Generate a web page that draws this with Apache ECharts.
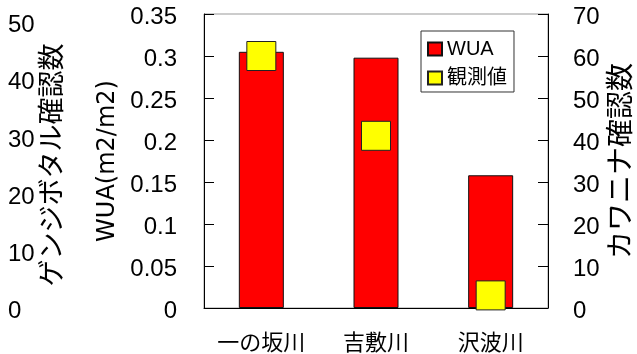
<!DOCTYPE html>
<html>
<head>
<meta charset="utf-8">
<script src="https://cdn.jsdelivr.net/npm/echarts@6/dist/echarts.min.js"></script>
<style>
  html, body { margin: 0; padding: 0; background: #fff; }
  #chart { width: 637px; height: 354px; }
</style>
</head>
<body>
<div id="chart"></div>
<script>
// Rivers on the category axis
const categories = ['一の坂川', '吉敷川', '沢波川'];
// Weighted usable area per river (m2/m2)
const wuaValues = [0.305, 0.298, 0.158];
// Observed counts, read on the right-hand axis
const observedValues = [60, 41, 3];

const FONT = '"Liberation Sans", "Noto Sans CJK JP", sans-serif';
const WIDE_FONT = '"DejaVu Sans", "Noto Sans CJK JP", sans-serif';
const black = '#000';
// Tick labels sit a few pixels below their ticks
const tickLabel = { fontSize: 24, color: black, verticalAlign: 'top', lineHeight: 7, fontFamily: FONT };

const chart = echarts.init(document.getElementById('chart'));
chart.setOption({
  animation: false,
  backgroundColor: '#fff',
  textStyle: { fontFamily: FONT, color: black },
  grid: [
    { left: 204, right: 89, top: 14, bottom: 46, show: true, borderColor: '#999', borderWidth: 1, outerBoundsMode: 'none', containLabel: false },
    { left: 70, right: 89, top: 22, bottom: 46, outerBoundsMode: 'none', containLabel: false }
  ],
  legend: {
    orient: 'vertical',
    left: 421,
    top: 31,
    padding: [8, 7, 4, 6],
    itemGap: 9,
    itemWidth: 14,
    itemHeight: 13,
    borderColor: '#333',
    borderWidth: 1,
    backgroundColor: '#fff',
    textStyle: { fontSize: 20, color: black, fontFamily: FONT },
    data: [{ name: 'WUA', icon: 'rect' }, { name: '観測値', icon: 'rect' }]
  },
  xAxis: [
    {
      type: 'category',
      gridIndex: 0,
      data: categories,
      axisLine: { lineStyle: { color: black, width: 1 } },
      axisTick: { inside: true, length: 8, lineStyle: { color: '#444' } },
      axisLabel: { fontSize: 22, color: black, margin: 25, interval: 0, fontFamily: FONT }
    },
    { type: 'category', gridIndex: 1, data: categories, show: false }
  ],
  yAxis: [
    {
      type: 'value',
      gridIndex: 0,
      position: 'left',
      min: 0,
      max: 0.35,
      interval: 0.05,
      splitLine: { show: false },
      axisLine: { show: true, lineStyle: { color: black } },
      axisTick: { show: true, inside: true, length: 10, lineStyle: { color: black } },
      axisLabel: Object.assign({ margin: 27 }, tickLabel),
      name: 'WUA(m2/m2)',
      nameLocation: 'middle',
      nameRotate: 90,
      nameGap: 84,
      nameMoveOverlap: false,
      nameTextStyle: { fontSize: 24, color: black, fontFamily: WIDE_FONT }
    },
    {
      type: 'value',
      gridIndex: 1,
      position: 'left',
      min: 0,
      max: 50,
      interval: 10,
      splitLine: { show: false },
      axisLine: { show: false },
      axisTick: { show: false },
      axisLabel: Object.assign({ margin: 62, align: 'left' }, tickLabel),
      name: 'ゲンジボタル確認数',
      nameLocation: 'middle',
      nameRotate: 90,
      nameGap: 3,
      nameMoveOverlap: false,
      nameTextStyle: { fontSize: 27, color: black, fontFamily: FONT }
    },
    {
      type: 'value',
      gridIndex: 0,
      position: 'right',
      min: 0,
      max: 70,
      interval: 10,
      splitLine: { show: false },
      axisLine: { show: true, lineStyle: { color: black } },
      axisTick: { show: true, inside: true, length: 10, lineStyle: { color: black } },
      axisLabel: Object.assign({ margin: 25 }, tickLabel),
      name: 'カワニナ確認数',
      nameLocation: 'middle',
      nameRotate: 90,
      nameGap: 60,
      nameMoveOverlap: false,
      nameTextStyle: { fontSize: 28, color: black, fontFamily: FONT }
    }
  ],
  series: [
    {
      name: 'WUA',
      type: 'bar',
      xAxisIndex: 0,
      yAxisIndex: 0,
      data: wuaValues,
      barWidth: 45,
      itemStyle: { color: '#ff0000', borderColor: '#111', borderWidth: 1 }
    },
    {
      name: '観測値',
      type: 'scatter',
      xAxisIndex: 0,
      yAxisIndex: 2,
      data: observedValues,
      symbol: 'rect',
      symbolSize: 29,
      clip: false,
      itemStyle: { color: '#ffff00', borderColor: '#222', borderWidth: 1, opacity: 1 }
    }
  ]
});
</script>
</body>
</html>
